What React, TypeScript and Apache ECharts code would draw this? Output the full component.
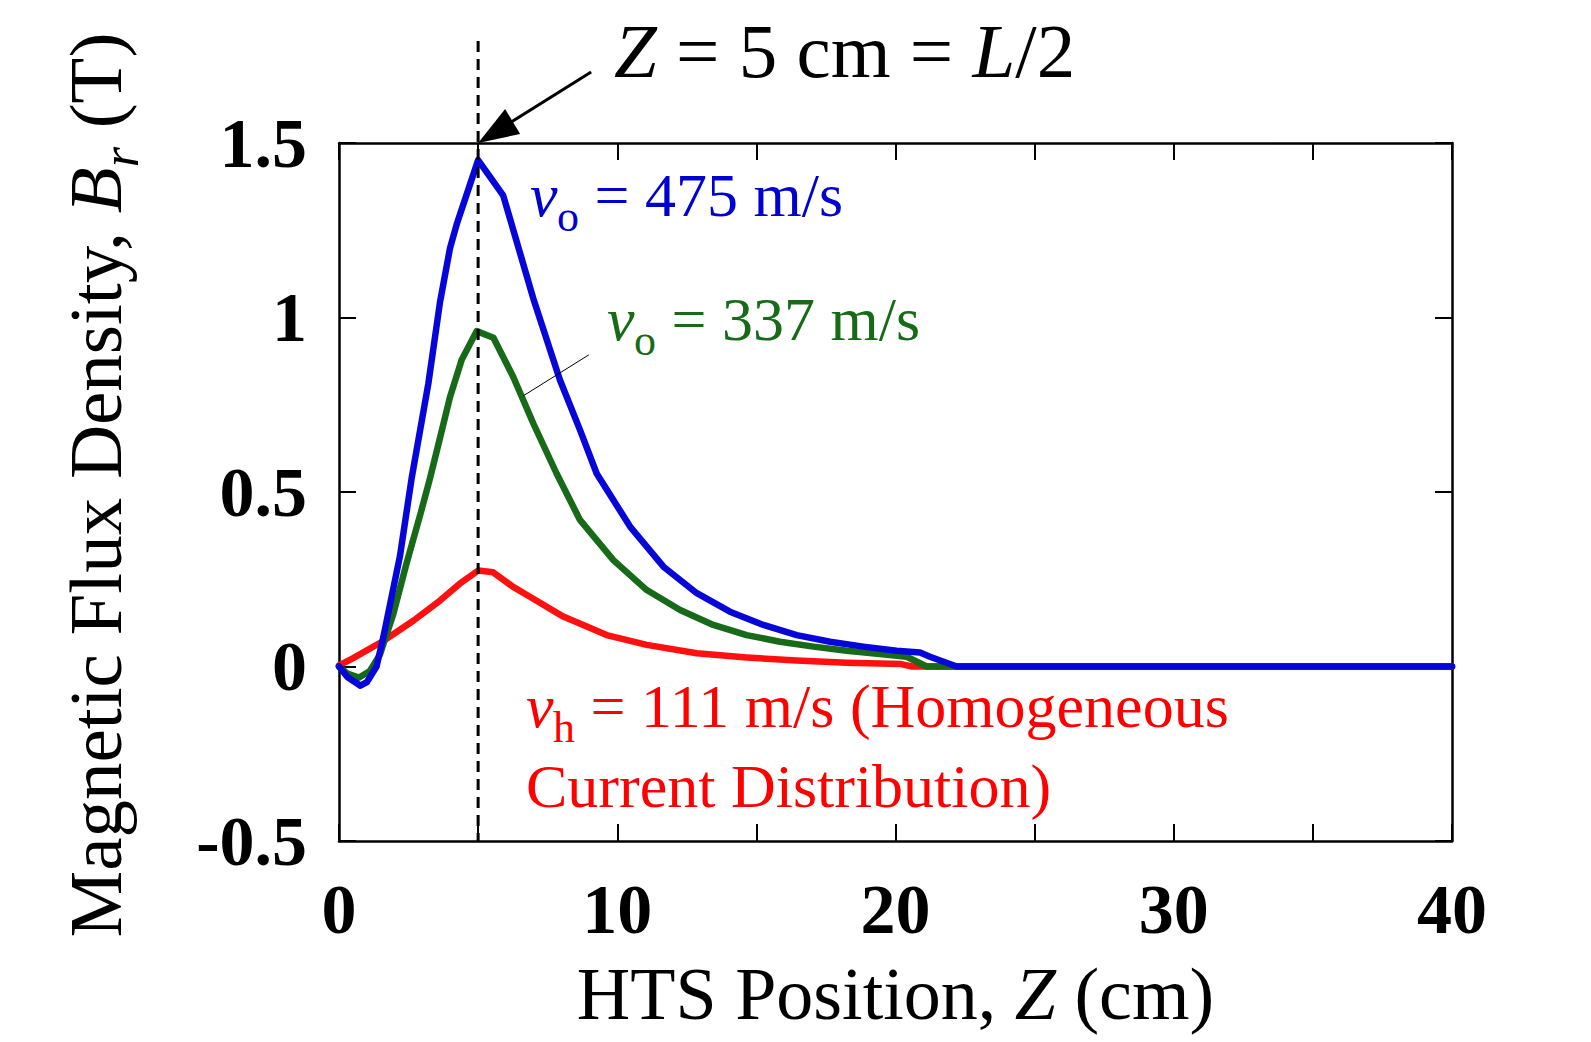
import React, { useEffect, useRef } from 'react';
import * as echarts from 'echarts';

// HTS position Z (cm) and radial flux density Br (T)
const blueZ = [0, 0.3, 0.77, 1.0, 1.35, 1.59, 2.19, 2.61, 3.21, 3.63, 3.99, 4.23, 5.0, 5.9, 7.0, 7.94, 8.66, 9.26, 10.46, 11.66, 12.86, 14.05, 15.25, 16.45, 17.65, 18.84, 20.04, 20.88, 21.24, 22.2, 40];
const blueB = [0, -0.03, -0.055, -0.045, 0, 0.083, 0.316, 0.539, 0.81, 1.044, 1.199, 1.267, 1.451, 1.35, 1.05, 0.821, 0.678, 0.553, 0.401, 0.286, 0.21, 0.157, 0.119, 0.09, 0.071, 0.057, 0.045, 0.04, 0.028, 0, 0];

const greenZ = [0, 0.3, 0.71, 1.11, 1.47, 1.95, 2.43, 2.91, 3.27, 3.63, 3.99, 4.41, 4.95, 5.55, 6.26, 6.98, 7.82, 8.66, 9.86, 11.06, 12.26, 13.45, 14.65, 15.85, 17.05, 18.25, 19.44, 20.4, 21.12, 40];
const greenB = [0, -0.02, -0.032, -0.013, 0.034, 0.15, 0.296, 0.432, 0.539, 0.655, 0.772, 0.879, 0.961, 0.942, 0.83, 0.697, 0.553, 0.42, 0.305, 0.219, 0.162, 0.119, 0.09, 0.071, 0.057, 0.045, 0.036, 0.028, 0, 0];

const redZ = [0, 0.51, 1.59, 2.67, 3.63, 4.35, 5.0, 5.54, 6.26, 6.86, 8.06, 9.62, 11.06, 12.86, 14.65, 16.45, 18.25, 20.2, 20.6, 40];
const redB = [0.003, 0.024, 0.073, 0.131, 0.189, 0.238, 0.275, 0.27, 0.228, 0.2, 0.143, 0.09, 0.062, 0.038, 0.026, 0.017, 0.011, 0.007, 0, 0];

const xTickLabels = ['0', '10', '20', '30', '40'];
const yTickLabels = ['-0.5', '0', '0.5', '1', '1.5'];

const markZ = 5; // Z = L/2
const leaderFrom = [8.98, 0.893];
const leaderTo = [6.61, 0.775];

const FONT = "'Liberation Serif', 'Times New Roman', serif";
const BLUE = '#0606d8';
const GREEN = '#176a17';
const RED = '#ff1010';

const zip = (a: number[], b: number[]) => a.map((v, i) => [v, b[i]]);

export default function App() {
  const ref = useRef<HTMLDivElement>(null);
  useEffect(() => {
    const chart = echarts.init(ref.current!, null, { renderer: 'svg' });
    const axisLine = { show: true, onZero: false, lineStyle: { color: '#000', width: 2.5 } };
    const tick = { show: true, inside: true, length: 17, lineStyle: { color: '#000', width: 2 } };
    const mk = (name: string, z: number[], b: number[], color: string) => ({
      name,
      type: 'line',
      data: zip(z, b),
      showSymbol: false,
      smooth: false,
      lineStyle: { color, width: 6.5, cap: 'round', join: 'round' },
      itemStyle: { color },
      xAxisIndex: 0,
      yAxisIndex: 0,
    });
    chart.setOption({
      animation: false,
      backgroundColor: '#fff',
      grid: { left: 339, right: 139, top: 143, bottom: 201, containLabel: false },
      xAxis: [
        {
          type: 'value', min: 0, max: 40, interval: 5, position: 'bottom',
          axisLine, axisTick: tick, splitLine: { show: false },
          axisLabel: {
            fontFamily: FONT, fontSize: 70, fontWeight: 'bold', color: '#000', margin: 33,
            formatter: (v: number) => (xTickLabels.includes(String(v)) ? String(v) : ''),
          },
          name: '{n|HTS Position, }{i|Z}{n| (cm)}',
          nameLocation: 'middle',
          nameGap: 116,
          nameTextStyle: {
            fontFamily: FONT, fontSize: 74, color: '#000',
            rich: {
              n: { fontFamily: FONT, fontSize: 74, color: '#000' },
              i: { fontFamily: FONT, fontSize: 74, fontStyle: 'italic', color: '#000' },
            },
          },
        },
        {
          type: 'value', min: 0, max: 40, interval: 5, position: 'top',
          axisLine, axisTick: tick, splitLine: { show: false }, axisLabel: { show: false },
        },
      ],
      yAxis: [
        {
          type: 'value', min: -0.5, max: 1.5, interval: 0.5, position: 'left',
          axisLine, axisTick: tick, splitLine: { show: false },
          axisLabel: {
            fontFamily: FONT, fontSize: 70, fontWeight: 'bold', color: '#000', margin: 32,
            formatter: (v: number) => {
              const s = String(Math.round(v * 10) / 10);
              return yTickLabels.includes(s) ? s : '';
            },
          },
        },
        {
          type: 'value', min: -0.5, max: 1.5, interval: 0.5, position: 'right',
          axisLine, axisTick: tick, splitLine: { show: false }, axisLabel: { show: false },
        },
      ],
      series: [
        mk('vh = 111 m/s', redZ, redB, RED),
        mk('vo = 337 m/s', greenZ, greenB, GREEN),
        mk('vo = 475 m/s', blueZ, blueB, BLUE),
      ],
    });

    const P = (x: number, y: number) => chart.convertToPixel({ xAxisIndex: 0, yAxisIndex: 0 }, [x, y]) as number[];
    const top = P(markZ, 1.5);
    const bot = P(markZ, -0.5);
    const lf = P(leaderFrom[0], leaderFrom[1]);
    const lt = P(leaderTo[0], leaderTo[1]);

    // velocity label: italic v, upright subscript, then the rest
    const vLabel = (x: number, y: number, sub: string, rest: string, color: string) => [
      {
        type: 'text', z: 60, x, y,
        style: { text: 'v', fontFamily: FONT, fontSize: 62, fontStyle: 'italic', fill: color, verticalAlign: 'middle', align: 'left' },
      },
      {
        type: 'text', z: 60, x: x + 27, y: y + 21,
        style: { text: sub, fontFamily: FONT, fontSize: 44, fill: color, verticalAlign: 'middle', align: 'left' },
      },
      {
        type: 'text', z: 60, x: x + 49, y,
        style: { text: rest, fontFamily: FONT, fontSize: 62, fill: color, verticalAlign: 'middle', align: 'left' },
      },
    ];

    // rotated y-axis title, built from pieces so that the subscript can drop
    const ctx = document.createElement('canvas').getContext('2d')!;
    const measure = (font: string, s: string) => { ctx.font = font; return ctx.measureText(s).width; };
    const yt = [
      { t: 'Magnetic Flux Density, ', size: 75, italic: false, sub: false },
      { t: 'B', size: 75, italic: true, sub: false },
      { t: 'r', size: 52, italic: true, sub: true },
      { t: ' (T)', size: 75, italic: false, sub: false },
    ];
    const widths = yt.map((p) => measure(`${p.italic ? 'italic ' : ''}${p.size}px 'Liberation Serif'`, p.t));
    const total = widths.reduce((a, b) => a + b, 0);
    const yMid = (P(0, 1.5)[1] + P(0, -0.5)[1]) / 2 - 7;
    let off = 0;
    const yTitle = yt.map((p, i) => {
      const el = {
        type: 'text', z: 60, x: 95 + (p.sub ? 25 : 0), y: yMid + total / 2 - off, rotation: Math.PI / 2,
        style: {
          text: p.t, fontFamily: FONT, fontSize: p.size, fontStyle: p.italic ? 'italic' : 'normal',
          fill: '#000', verticalAlign: 'middle', align: 'left',
        },
      };
      off += widths[i];
      return el;
    });

    chart.setOption({
      graphic: [
        {
          type: 'line', z: 50,
          shape: { x1: top[0], y1: 41, x2: bot[0], y2: bot[1] },
          style: { stroke: '#000', lineWidth: 3, lineDash: [11, 7] },
        },
        {
          type: 'line', z: 50,
          shape: { x1: top[0] + 113, y1: top[1] - 71, x2: top[0] + 30, y2: top[1] - 19 },
          style: { stroke: '#000', lineWidth: 3 },
        },
        {
          type: 'polygon', z: 50,
          shape: { points: [[top[0], top[1]], [top[0] + 27, top[1] - 34], [top[0] + 42, top[1] - 9]] },
          style: { fill: '#000' },
        },
        {
          type: 'line', z: 50,
          shape: { x1: lf[0], y1: lf[1], x2: lt[0], y2: lt[1] },
          style: { stroke: '#000', lineWidth: 1 },
        },
        {
          type: 'text', z: 60, x: 614, y: 51,
          style: {
            text: '{i|Z}{n| = 5 cm = }{i|L}{n|/2}',
            verticalAlign: 'middle', align: 'left', fill: '#000',
            rich: {
              n: { fontFamily: FONT, fontSize: 77, fill: '#000' },
              i: { fontFamily: FONT, fontSize: 77, fontStyle: 'italic', fill: '#000' },
            },
          },
        },
        ...yTitle,
        ...vLabel(530, 195, 'o', ' = 475 m/s', '#0000d0'),
        ...vLabel(607, 319, 'o', ' = 337 m/s', GREEN),
        ...vLabel(526, 706, 'h', ' = 111 m/s (Homogeneous', '#ff0000'),
        {
          type: 'text', z: 60, x: 526, y: 786,
          style: {
            text: 'Current Distribution)', fontFamily: FONT, fontSize: 62, fill: '#ff0000',
            verticalAlign: 'middle', align: 'left',
          },
        },
      ],
    });
    return () => chart.dispose();
  }, []);
  return <div ref={ref} style={{ position: 'absolute', left: 0, top: 0, width: 1591, height: 1042 }} />;
}
